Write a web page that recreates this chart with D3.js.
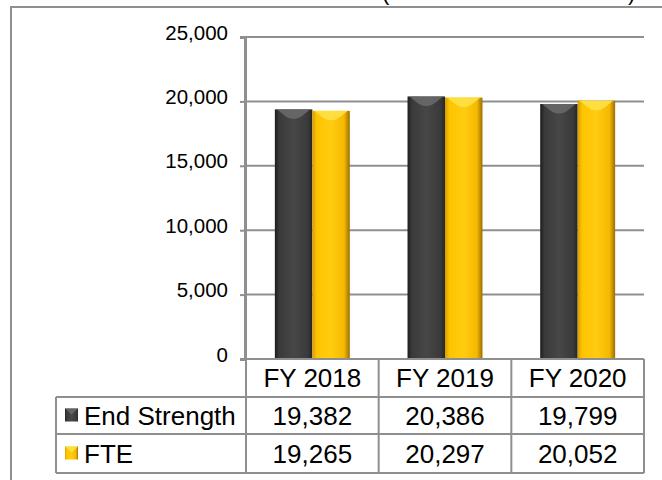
<!DOCTYPE html>
<html lang="en">
<head>
    <meta charset="UTF-8">
    <title>End Strength and FTE</title>
    <script src="https://d3js.org/d3.v7.min.js"></script>
    <style>
        body { margin: 0; background: #fff; }
        svg { display: block; font-family: Arial, "Liberation Sans", sans-serif; }
    </style>
</head>
<body>
    <div id="chart"></div>

    <script>
        // Chart data
        const categories = ["FY 2018", "FY 2019", "FY 2020"];
        const seriesNames = ["End Strength", "FTE"];
        const endStrength = [19382, 20386, 19799];
        const fte = [19265, 20297, 20052];
        const yTicks = [0, 5000, 10000, 15000, 20000, 25000];

        const width = 662, height = 480;
        const plot = {left: 246, right: 644, top: 37, bottom: 359};
        const rowH = [38, 37, 39]; // header, End Strength, FTE
        const gray = "#8f8f8f";

        const svg = d3.select("#chart").append("svg")
            .attr("width", width)
            .attr("height", height);

        // Gradients for the bevelled bars
        const defs = svg.append("defs");
        function grad(id, stops) {
            const g = defs.append("linearGradient").attr("id", id)
                .attr("x1", "0%").attr("x2", "100%").attr("y1", "0%").attr("y2", "0%");
            stops.forEach(s => g.append("stop").attr("offset", s[0]).attr("stop-color", s[1]));
        }
        grad("gDark", [["0%", "#1e1e1e"], ["12%", "#3a3a3a"], ["50%", "#474747"], ["88%", "#3a3a3a"], ["100%", "#262626"]]);
        grad("gGold", [["0%", "#d69e00"], ["12%", "#ffc400"], ["50%", "#ffcc10"], ["85%", "#f5b800"], ["100%", "#9a7000"]]);
        const fills = ["url(#gDark)", "url(#gGold)"];
        const caps = ["#6b6b6b", "#ffe24a"];
        const values = [endStrength, fte];

        // Outer frame (clipped on the right and bottom)
        svg.append("path")
            .attr("d", `M11,${height} L11,7 L${width},7`)
            .attr("fill", "none")
            .attr("stroke", gray)
            .attr("stroke-width", 2);

        // Title remnant, cut off at the top as in the source
        svg.append("text").attr("x", 382).attr("y", 0).attr("font-size", 22).text("(");
        svg.append("text").attr("x", 628).attr("y", 0).attr("font-size", 22).text(")");

        // Scales
        const x = d3.scaleBand().domain(categories).range([plot.left, plot.right]);
        const xSub = d3.scaleBand().domain(seriesNames).range([0, x.bandwidth()]).paddingOuter(0.77);
        const y = d3.scaleLinear().domain([0, 25000]).range([plot.bottom, plot.top]);

        // Gridlines
        svg.append("g").selectAll("line")
            .data(yTicks.filter(d => d > 0))
            .join("line")
            .attr("x1", plot.left).attr("x2", plot.right)
            .attr("y1", d => y(d)).attr("y2", d => y(d))
            .attr("stroke", gray).attr("stroke-width", 2);

        // Bars
        seriesNames.forEach((name, si) => {
            const g = svg.append("g");
            categories.forEach((c, ci) => {
                const v = values[si][ci];
                const x0 = x(c) + xSub(name);
                const w = xSub.bandwidth();
                const yT = y(v);
                g.append("rect")
                    .attr("x", x0).attr("y", yT)
                    .attr("width", w).attr("height", plot.bottom - yT)
                    .attr("fill", fills[si]);
                // top bevel highlight
                g.append("path")
                    .attr("d", `M${x0 + 2},${yT} L${x0 + w - 2},${yT} L${x0 + w - 7},${yT + 4}
                        Q${x0 + w / 2},${yT + 15} ${x0 + 7},${yT + 4} Z`)
                    .attr("fill", caps[si])
                    .attr("opacity", 0.85);
            });
        });

        // Y axis
        const yAxis = svg.append("g")
            .attr("transform", `translate(${plot.left - 1},0)`)
            .call(d3.axisLeft(y).tickValues(yTicks).tickSize(5).tickPadding(12).tickFormat(d3.format(",")));
        yAxis.select(".domain").attr("stroke", gray).attr("stroke-width", 3);
        yAxis.selectAll(".tick line").attr("stroke", gray).attr("stroke-width", 2);
        yAxis.selectAll(".tick text")
            .attr("font-size", 20.5)
            .attr("font-family", "Arial, 'Liberation Sans', sans-serif")
            .attr("fill", "#000")
            .attr("dy", "0.1em");

        // Data table below the plot
        const table = svg.append("g");
        const rowTop = [plot.bottom, plot.bottom + rowH[0], plot.bottom + rowH[0] + rowH[1]];
        const tableBottom = rowTop[2] + rowH[2];
        const legendLeft = 56;

        const lineAttr = sel => sel.attr("stroke", gray).attr("stroke-width", 2);

        // horizontal lines
        table.append("line").attr("x1", plot.left).attr("x2", plot.right)
            .attr("y1", rowTop[0]).attr("y2", rowTop[0]).call(lineAttr);
        [rowTop[1], rowTop[2], tableBottom].forEach(yy => {
            table.append("line").attr("x1", legendLeft).attr("x2", plot.right)
                .attr("y1", yy).attr("y2", yy).call(lineAttr);
        });
        // vertical lines
        table.append("line").attr("x1", legendLeft).attr("x2", legendLeft)
            .attr("y1", rowTop[1]).attr("y2", tableBottom).call(lineAttr);
        categories.concat(["end"]).forEach((c, i) => {
            const xx = i < categories.length ? x(c) : plot.right;
            table.append("line").attr("x1", xx).attr("x2", xx)
                .attr("y1", rowTop[0]).attr("y2", tableBottom).call(lineAttr);
        });

        // header text
        table.selectAll(".hdr")
            .data(categories)
            .join("text")
            .attr("x", d => x(d) + x.bandwidth() / 2)
            .attr("y", rowTop[0] + rowH[0] / 2)
            .attr("dy", "0.36em")
            .attr("text-anchor", "middle")
            .attr("font-size", 26)
            .text(d => d);

        // rows
        const fmt = d3.format(",");
        seriesNames.forEach((name, si) => {
            const cy = rowTop[si + 1] + rowH[si + 1] / 2;
            table.append("rect")
                .attr("x", 65).attr("y", cy - 7)
                .attr("width", 13).attr("height", 13)
                .attr("fill", fills[si]);
            table.append("path")
                .attr("d", `M65,${cy - 7} L78,${cy - 7} L71.5,${cy - 1} Z`)
                .attr("fill", caps[si]).attr("opacity", 0.8);
            table.append("text")
                .attr("x", 84).attr("y", cy).attr("dy", "0.36em")
                .attr("font-size", 26)
                .text(name);
            categories.forEach((c, ci) => {
                table.append("text")
                    .attr("x", x(c) + x.bandwidth() / 2)
                    .attr("y", cy).attr("dy", "0.36em")
                    .attr("text-anchor", "middle")
                    .attr("font-size", 26)
                    .text(fmt(values[si][ci]));
            });
        });
    </script>
</body>
</html>
